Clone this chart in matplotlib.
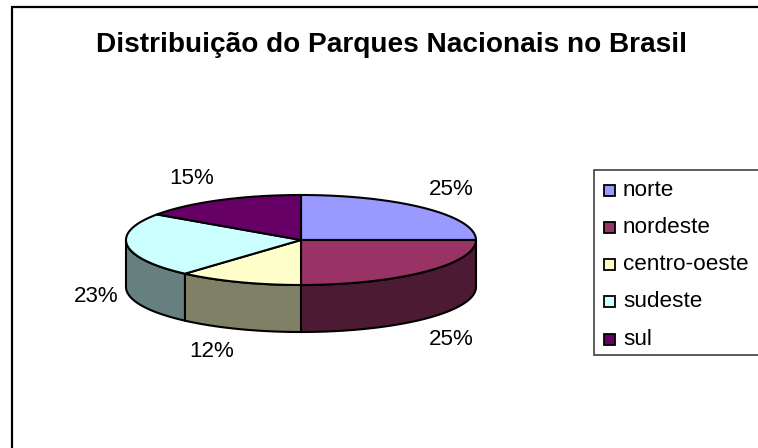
import numpy as np
import matplotlib
matplotlib.use('Agg')
import matplotlib.pyplot as plt
from matplotlib.patches import Polygon, Rectangle

plt.rcParams['font.family'] = ['Liberation Sans', 'DejaVu Sans']

title = 'Distribuição do Parques Nacionais no Brasil'
regions = ['norte', 'nordeste', 'centro-oeste', 'sudeste', 'sul']
parks = [13, 13, 6, 12, 8]
top_colors = ['#9999ff', '#993366', '#ffffcc', '#ccffff', '#660066']
side_colors = ['#4d4d80', '#4d1a33', '#808066', '#668080', '#330033']
label_pos = [(451.5, 195), (451.5, 345), (212, 357), (96.5, 302), (192, 184)]

# pie geometry, in image pixels
cx, cy = 301, 240
rx, ry = 175, 45
depth = 47

fig = plt.figure(figsize=(7.58, 4.48), dpi=100)
ax = fig.add_axes([0, 0, 1, 1])
ax.set_xlim(0, 758)
ax.set_ylim(448, 0)
ax.axis('off')

# chart frame, runs off the right and bottom of the image
ax.add_patch(Rectangle((12, 7), 770, 470, fc='white', ec='black', lw=1.6))


def rim(a0, a1, n=80):
    # angles clockwise from 12 o'clock
    t = np.radians(np.linspace(a0, a1, n))
    return cx + rx * np.sin(t), cy - ry * np.cos(t)


edges = np.cumsum([0] + parks) / sum(parks) * 360

# sides first: only the front half of the pie has a visible wall
for i in range(len(parks)):
    a0, a1 = max(edges[i], 90), min(edges[i + 1], 270)
    if a1 <= a0:
        continue
    x, y = rim(a0, a1)
    pts = np.vstack([np.c_[x, y], np.c_[x[::-1], y[::-1] + depth]])
    ax.add_patch(Polygon(pts, fc=side_colors[i], ec='black', lw=1.5, joinstyle='round'))

for i in range(len(parks)):
    x, y = rim(edges[i], edges[i + 1])
    pts = np.vstack([[cx, cy], np.c_[x, y]])
    ax.add_patch(Polygon(pts, fc=top_colors[i], ec='black', lw=1.5, joinstyle='round'))

for count, (px, py) in zip(parks, label_pos):
    pct = round(count / sum(parks) * 100)
    ax.text(px, py, f'{pct}%', fontsize=16.1, ha='center', va='baseline', color='black')

ax.text(391, 52, title, fontsize=20.2, fontweight='bold', ha='center', va='baseline')

# legend, drawn by hand so it matches the clipped box
ax.add_patch(Rectangle((594, 170), 175, 185, fc='white', ec='#404040', lw=1.2))
legend_y = [196, 233, 270, 307, 345]
for name, color, ly in zip(regions, top_colors, legend_y):
    ax.add_patch(Rectangle((603.5, ly - 10.5), 11, 11, fc=color, ec='black', lw=1.3))
    ax.text(623, ly, name, fontsize=16.2, ha='left', va='baseline')

fig.savefig('out.png', dpi=100)
